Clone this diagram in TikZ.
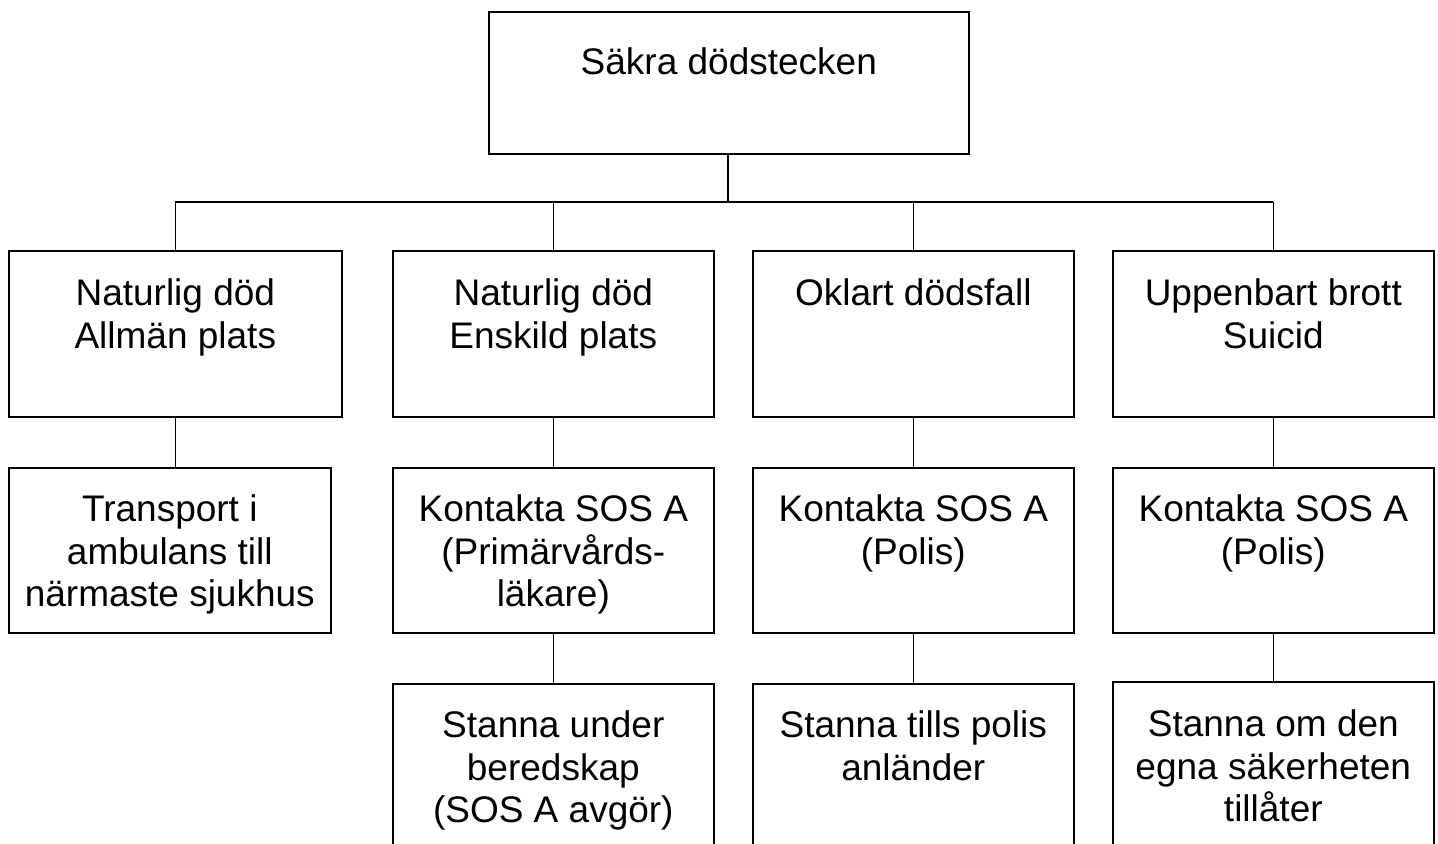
\documentclass[tikz,border=0pt]{standalone}
\usepackage{fontspec}
\setmainfont{Liberation Sans}
\newcommand{\boxtext}[4]{\parbox[t][#2][t]{#1}{\centering\fontsize{37bp}{42.5bp}\selectfont\rule{0pt}{#3}#4}}
\begin{document}
\begin{tikzpicture}[x=1bp,y=-1bp,
  box/.style={draw, line width=1.6bp, inner sep=0pt, anchor=north west},
  conn/.style={line width=1.6bp}]
\clip (0,0) rectangle (1438,843);
\fill[white] (0,0) rectangle (1438,843);
% top
\node[box] (top) at (488,11) {\boxtext{480bp}{142bp}{63bp}{Säkra dödstecken}};
% row 1
\node[box] (a1) at (8,250) {\boxtext{333bp}{166bp}{55bp}{Naturlig död\\Allmän plats}};
\node[box] (b1) at (392,250) {\boxtext{321bp}{166bp}{55bp}{Naturlig död\\Enskild plats}};
\node[box] (c1) at (752,250) {\boxtext{321bp}{166bp}{55bp}{Oklart dödsfall}};
\node[box] (d1) at (1112,250) {\boxtext{321bp}{166bp}{55bp}{Uppenbart brott\\Suicid}};
% row 2
\node[box] (a2) at (8,467) {\boxtext{322bp}{165bp}{54bp}{Transport i\\ambulans till\\närmaste sjukhus}};
\node[box] (b2) at (392,467) {\boxtext{321bp}{165bp}{54bp}{Kontakta SOS A\\(Primärvårds-\\läkare)}};
\node[box] (c2) at (752,467) {\boxtext{321bp}{165bp}{54bp}{Kontakta SOS A\\(Polis)}};
\node[box] (d2) at (1112,467) {\boxtext{321bp}{165bp}{54bp}{Kontakta SOS A\\(Polis)}};
% row 3
\node[box] (b3) at (392,683) {\boxtext{321bp}{200bp}{54bp}{Stanna under\\beredskap\\(SOS A avgör)}};
\node[box] (c3) at (752,683) {\boxtext{321bp}{200bp}{54bp}{Stanna tills polis\\anländer}};
\node[box] (d3) at (1112,681) {\boxtext{321bp}{200bp}{55bp}{Stanna om den\\egna säkerheten\\tillåter}};
% tree connectors
\coordinate (bus) at (728,202);
\draw[conn] (top.south -| bus) -- (bus);
\draw[conn] (a1.north |- bus) -- (d1.north |- bus);
\foreach \n in {a1,b1,c1,d1} \draw[conn] (\n.north |- bus) -- (\n.north);
% vertical connectors
\foreach \u/\l in {a1/a2,b1/b2,c1/c2,d1/d2,b2/b3,c2/c3,d2/d3}
  \draw[conn] (\u.south) -- (\u.south |- \l.north);
\end{tikzpicture}
\end{document}
